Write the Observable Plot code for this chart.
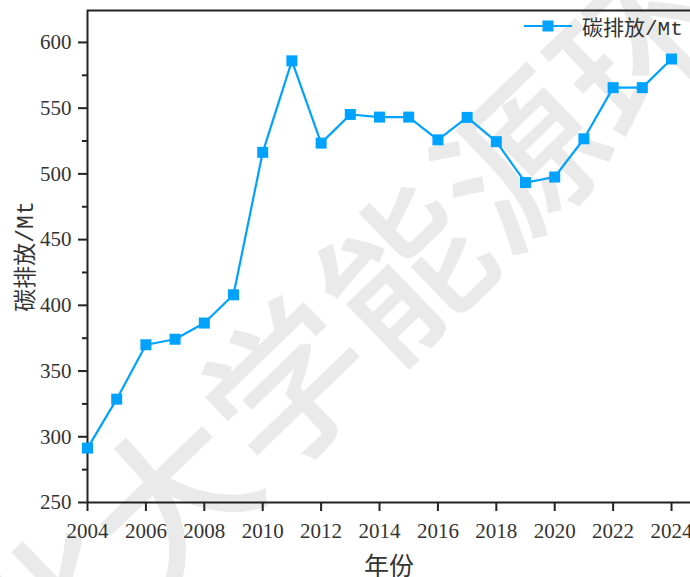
<!DOCTYPE html>
<html><head><meta charset="utf-8">
<script src="https://cdn.jsdelivr.net/npm/d3@7"></script>
<script src="https://cdn.jsdelivr.net/npm/@observablehq/plot@0.6"></script>
<style>
html,body{margin:0;padding:0;background:#fff;}
#wrap{position:relative;width:690px;height:577px;overflow:hidden;background:#fff;}
#wm{position:absolute;left:0;top:0;width:690px;height:577px;z-index:0;}
#wm span{position:absolute;font-family:"Noto Sans CJK SC";font-weight:500;font-size:160px;line-height:1;color:#eaeaea;white-space:nowrap;}
#chart{position:absolute;left:0;top:0;z-index:1;}
#legend{position:absolute;left:524px;top:11px;z-index:2;display:flex;align-items:center;font-family:"Liberation Mono","Noto Sans CJK SC";font-size:21px;color:#333;}
#legend svg{margin-right:10px;}
</style>
</head><body>
<div id="wrap">
  <div id="wm"></div>
  <div id="chart"></div>
  <div id="legend"></div>
</div>
<script>
const years = [2004,2005,2006,2007,2008,2009,2010,2011,2012,2013,2014,2015,2016,2017,2018,2019,2020,2021,2022,2023,2024];
const emissions = [291.4,328.6,370.0,374.2,386.5,408.0,516.4,586.0,523.4,545.2,543.2,543.2,525.9,543.0,524.5,493.4,497.6,526.7,565.6,565.6,587.4];
const xTicks = [2004,2006,2008,2010,2012,2014,2016,2018,2020,2022,2024];
const yTicks = [250,300,350,400,450,500,550,600];
const yMinorTicks = [275,325,375,425,475,525,575];
const xDomain = [2004, 2024.65];
const yDomain = [250, 624.3];
const seriesName = "碳排放/Mt";
const xLabel = "年份";
const yLabel = "碳排放/Mt";
const watermark = "北大学能源环境";
const color = "#00a2ff";

const data = years.map((y, i) => ({year: y, value: emissions[i]}));

const chart = Plot.plot({
  width: 690,
  height: 577,
  marginLeft: 87,
  marginRight: 0,
  marginTop: 10,
  marginBottom: 75,
  style: {background: "transparent", fontFamily: "Liberation Serif", fontSize: "21px", color: "#333"},
  x: {domain: xDomain},
  y: {domain: yDomain},
  marks: [
    Plot.ruleX([xDomain[0]], {stroke: "#222", strokeWidth: 2}),
    Plot.ruleY([yDomain[0]], {stroke: "#222", strokeWidth: 2}),
    Plot.ruleY([yDomain[1]], {stroke: "#222", strokeWidth: 2}),
    Plot.axisY(yMinorTicks, {tickSize: 5, text: null, stroke: "#222", strokeWidth: 2, label: null}),
    Plot.axisY({ticks: yTicks, tickSize: 9, tickPadding: 7, stroke: "#222", strokeWidth: 2, fill: "#333", label: null}),
    Plot.axisX({ticks: xTicks, tickSize: 9, tickPadding: 12, tickFormat: d => String(d), stroke: "#222", strokeWidth: 2, fill: "#333", label: null}),
    Plot.text([xLabel], {frameAnchor: "bottom", dy: 72, fontSize: 25, fontFamily: "Noto Sans CJK SC", fill: "#333"}),
    Plot.text([yLabel], {frameAnchor: "left", textAnchor: "middle", dx: -62, rotate: -90, fontSize: 23, fontFamily: "Liberation Mono, Noto Sans CJK SC", fill: "#333"}),
    Plot.line(data, {x: "year", y: "value", stroke: color, strokeWidth: 2.2}),
    Plot.dot(data, {x: "year", y: "value", symbol: "square", r: 6.2, fill: color, stroke: null})
  ]
});
document.getElementById("chart").append(chart);

// legend
const lg = document.getElementById("legend");
lg.innerHTML = `<svg width="48" height="14"><line x1="0" y1="7" x2="48" y2="7" stroke="${color}" stroke-width="2.2"/><rect x="18.5" y="1.5" width="11" height="11" fill="${color}"/></svg><span>${seriesName}</span>`;

// watermark
const wm = document.getElementById("wm");
const ang = -44 * Math.PI / 180;
const step = 162;
const start = [48, 603];
[...watermark].forEach((ch, i) => {
  const cx = start[0] + i * step * Math.cos(ang);
  const cy = start[1] + i * step * Math.sin(ang);
  const s = document.createElement("span");
  s.textContent = ch;
  s.style.left = (cx - 80) + "px";
  s.style.top = (cy - 80) + "px";
  s.style.transform = "rotate(-44deg)";
  wm.append(s);
});
</script>
</body></html>
